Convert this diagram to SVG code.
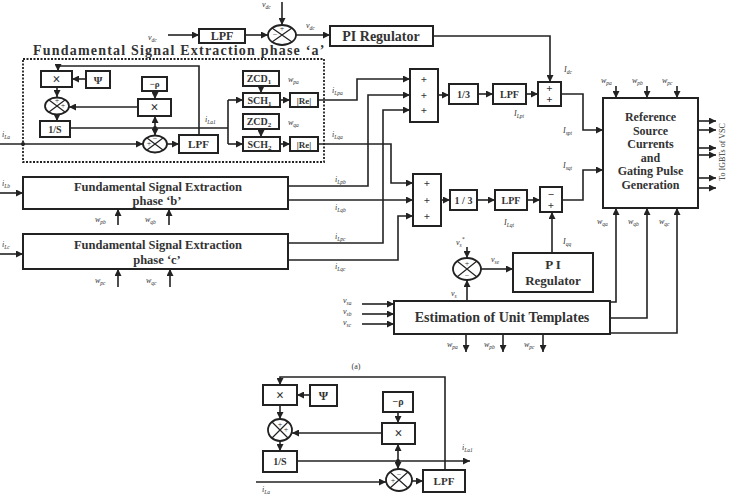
<svg xmlns="http://www.w3.org/2000/svg" width="731" height="495" viewBox="0 0 731 495">
<defs>
<marker id="a" viewBox="0 0 10 10" refX="10" refY="5" markerWidth="8" markerHeight="7" markerUnits="userSpaceOnUse" orient="auto"><path d="M0,0 L10,5 L0,10 z" fill="#222"/></marker>
<style>
.b{fill:#fff;stroke:#222;stroke-width:2}
.l{fill:none;stroke:#222;stroke-width:1.6}
.ar{fill:none;stroke:#222;stroke-width:1.6;marker-end:url(#a)}
.c{fill:#fff;stroke:#222;stroke-width:1.8}
.x{stroke:#222;stroke-width:1.2}
.t{font-family:"Liberation Serif",serif;font-weight:bold;fill:#333;text-anchor:middle}
.v{font-family:"Liberation Serif",serif;font-style:italic;font-size:8px;fill:#333}
.s{font-size:5.5px}
.g{font-family:"Liberation Serif",serif;font-size:8px;fill:#333;text-anchor:middle}
</style>
</defs>

<g id="connectors">
<path class="ar" d="M168,35 H199"/>
<path class="ar" d="M245,35 H268"/>
<path class="ar" d="M282,2 V25"/>
<path class="ar" d="M296,35 H330"/>
<path class="ar" d="M433,36 H550 V82"/>
<path class="ar" d="M199,135 V66 H58 V71"/>
<path class="ar" d="M86,79 H72"/>
<path class="ar" d="M57,87 V97"/>
<path class="ar" d="M57,114.5 V121"/>
<path class="ar" d="M155,91 V99"/>
<path class="ar" d="M138,107 H69"/>
<path class="l" d="M70,128 H228 M228,100 V144"/>
<path class="ar" d="M228,100 H243"/>
<path class="ar" d="M228,144 H243"/>
<path class="ar" d="M155,128 V116"/>
<path class="ar" d="M155,128 V135.5"/>
<circle cx="155" cy="128" r="2" fill="#222"/>
<path class="ar" d="M0,144 H143"/>
<circle cx="23" cy="144" r="2" fill="#222"/>
<path class="ar" d="M167,144 H179"/>
<path class="ar" d="M261,86 V93"/>
<path class="ar" d="M280,100 H290"/>
<path class="ar" d="M261,129 V137"/>
<path class="ar" d="M280,144 H290"/>
<path class="ar" d="M318,100 H357 V79 H410"/>
<path class="ar" d="M318,144 H391 V183 H413"/>
<path class="ar" d="M288,186 H368 V95 H410"/>
<path class="ar" d="M288,200 H413"/>
<path class="ar" d="M288,243 H383 V110 H410"/>
<path class="ar" d="M288,260 H398 V216 H413"/>
<path class="ar" d="M0,193 H23"/>
<path class="ar" d="M0,254 H23"/>
<path class="ar" d="M118,225 V209"/>
<path class="ar" d="M169,225 V209"/>
<path class="ar" d="M118,287 V269"/>
<path class="ar" d="M170,287 V269"/>
<path class="ar" d="M438,95 H449"/>
<path class="ar" d="M478,94 H493"/>
<path class="ar" d="M526,94 H538"/>
<path class="ar" d="M561,94 H583 V130 H603"/>
<path class="ar" d="M441,200 H450"/>
<path class="ar" d="M477,200 H495"/>
<path class="ar" d="M527,200 H540"/>
<path class="ar" d="M562,200 H583 V170 H603"/>
<path class="ar" d="M552,253 V212"/>
<path class="ar" d="M616,86 V98"/>
<path class="ar" d="M647,86 V98"/>
<path class="ar" d="M677,86 V98"/>
<path class="ar" d="M698,121 H716"/>
<path class="ar" d="M698,130 H716"/>
<path class="ar" d="M698,148 H716"/>
<path class="ar" d="M698,155 H716"/>
<path class="ar" d="M698,178 H716"/>
<path class="ar" d="M698,188 H716"/>
<path class="ar" d="M610,302 H616 V208"/>
<path class="ar" d="M610,318 H647 V208"/>
<path class="ar" d="M610,333 H677 V208"/>
<path class="ar" d="M362,304 H394"/>
<path class="ar" d="M362,314 H394"/>
<path class="ar" d="M362,324 H394"/>
<path class="ar" d="M467,301 V280"/>
<path class="ar" d="M467,247 V258"/>
<path class="ar" d="M481,269 H513"/>
<path class="ar" d="M466,334 V352"/>
<path class="ar" d="M503,334 V352"/>
<path class="ar" d="M543,334 V352"/>
<path class="ar" d="M445,470 V377 H280 V385"/>
<path class="ar" d="M310,395 H297"/>
<path class="ar" d="M280,405 V419"/>
<path class="ar" d="M280,441 V451"/>
<path class="ar" d="M398,412 V423"/>
<path class="ar" d="M382,433 H292"/>
<path class="ar" d="M297,461 H470"/>
<path class="ar" d="M398,461 V444"/>
<path class="ar" d="M398,461 V469"/>
<circle cx="398" cy="461" r="2" fill="#222"/>
<path class="ar" d="M412,481 H423"/>
<path class="ar" d="M256,482 H386"/>
</g>

<g id="labels">
<text class="v" x="148" y="40">v<tspan class="s" dy="2">dc</tspan></text>
<text class="v" x="262" y="7">v<tspan class="s" dy="2">dc</tspan></text>
<text class="v" x="306" y="28">v<tspan class="s" dy="2">dc</tspan></text>
<text class="v" x="2" y="137">i<tspan class="s" dy="2">La</tspan></text>
<text class="v" x="205" y="122">i<tspan class="s" dy="2">La1</tspan></text>
<text class="v" x="288" y="82">w<tspan class="s" dy="2">pa</tspan></text>
<text class="v" x="288" y="125">w<tspan class="s" dy="2">qa</tspan></text>
<text class="v" x="332" y="93">i<tspan class="s" dy="2">Lpa</tspan></text>
<text class="v" x="332" y="137">i<tspan class="s" dy="2">Lqa</tspan></text>
<text class="v" x="2" y="186">i<tspan class="s" dy="2">Lb</tspan></text>
<text class="v" x="2" y="247">i<tspan class="s" dy="2">Lc</tspan></text>
<text class="v" x="335" y="182">i<tspan class="s" dy="2">Lpb</tspan></text>
<text class="v" x="335" y="210">i<tspan class="s" dy="2">Lqb</tspan></text>
<text class="v" x="335" y="239">i<tspan class="s" dy="2">Lpc</tspan></text>
<text class="v" x="335" y="269">i<tspan class="s" dy="2">Lqc</tspan></text>
<text class="v" x="95" y="222">w<tspan class="s" dy="2">pb</tspan></text>
<text class="v" x="145" y="222">w<tspan class="s" dy="2">qb</tspan></text>
<text class="v" x="95" y="283">w<tspan class="s" dy="2">pc</tspan></text>
<text class="v" x="146" y="283">w<tspan class="s" dy="2">qc</tspan></text>
<text class="v" x="564" y="72">I<tspan class="s" dy="2">dc</tspan></text>
<text class="v" x="514" y="116">I<tspan class="s" dy="2">Lpt</tspan></text>
<text class="v" x="563" y="133">I<tspan class="s" dy="2">spt</tspan></text>
<text class="v" x="563" y="168">I<tspan class="s" dy="2">sqt</tspan></text>
<text class="v" x="504" y="225">I<tspan class="s" dy="2">Lqt</tspan></text>
<text class="v" x="563" y="244">I<tspan class="s" dy="2">qq</tspan></text>
<text class="v" x="601" y="83">w<tspan class="s" dy="2">pa</tspan></text>
<text class="v" x="632" y="83">w<tspan class="s" dy="2">pb</tspan></text>
<text class="v" x="662" y="83">w<tspan class="s" dy="2">pc</tspan></text>
<text class="v" x="597" y="224">w<tspan class="s" dy="2">qa</tspan></text>
<text class="v" x="628" y="224">w<tspan class="s" dy="2">qb</tspan></text>
<text class="v" x="659" y="224">w<tspan class="s" dy="2">qc</tspan></text>
<text class="v" x="343" y="303">v<tspan class="s" dy="2">sa</tspan></text>
<text class="v" x="343" y="314">v<tspan class="s" dy="2">sb</tspan></text>
<text class="v" x="343" y="325">v<tspan class="s" dy="2">sc</tspan></text>
<text class="v" x="451" y="296">v<tspan class="s" dy="2">s</tspan></text>
<text class="v" x="456" y="245">v<tspan class="s" dy="2">s</tspan><tspan class="s" dy="-6">*</tspan></text>
<text class="v" x="491" y="262">v<tspan class="s" dy="2">se</tspan></text>
<text class="v" x="447" y="347">w<tspan class="s" dy="2">pa</tspan></text>
<text class="v" x="484" y="347">w<tspan class="s" dy="2">pb</tspan></text>
<text class="v" x="524" y="347">w<tspan class="s" dy="2">pc</tspan></text>
<text class="g" x="356" y="369" font-size="9">(a)</text>
<text class="g" x="0" y="0" font-size="9" transform="translate(725,152) rotate(-90)">To IGBTs of VSC</text>
<text class="v" x="462" y="450">i<tspan class="s" dy="2">La1</tspan></text>
<text class="v" x="262" y="492">i<tspan class="s" dy="2">La</tspan></text>
</g>

<g id="lpf-dc"><rect class="b" x="199" y="29" width="46" height="14"/><text class="t" x="222" y="40" font-size="12">LPF</text></g>
<g id="sum-dc"><ellipse class="c" cx="282" cy="35" rx="14" ry="10"/><path class="x" d="M272,28 L292,42 M292,28 L272,42"/><text class="g" x="282" y="31" font-size="6">+</text><text class="g" x="275" y="37" font-size="6">−</text></g>
<g id="pi-dc"><rect class="b" x="330" y="26" width="103" height="20"/><text class="t" x="381" y="41" font-size="14">PI Regulator</text></g>

<g id="phase-a">
<text class="t" x="33" y="55" font-size="14" letter-spacing="1.2" style="text-anchor:start">Fundamental Signal Extraction phase ‘a’</text>
<rect x="23" y="59" width="301" height="103" fill="none" stroke="#222" stroke-width="1.8" stroke-dasharray="2,1.5"/>
<rect class="b" x="41" y="71" width="31" height="16"/><text class="t" x="56.5" y="84" font-size="14">×</text>
<rect class="b" x="86" y="71" width="24" height="17"/><text class="t" x="98" y="84" font-size="11">Ψ</text>
<ellipse class="c" cx="57" cy="106" rx="12" ry="8.5"/><path class="x" d="M49,100 L65,112 M65,100 L49,112"/><text class="g" x="57" y="103" font-size="6">+</text><text class="g" x="63" y="108" font-size="6">+</text>
<rect class="b" x="40" y="121" width="30" height="16"/><text class="t" x="55" y="133" font-size="10">1/S</text>
<rect class="b" x="142" y="77" width="25" height="14"/><text class="t" x="154.5" y="87" font-size="9">−ρ</text>
<rect class="b" x="138" y="99" width="33" height="17"/><text class="t" x="154.5" y="112" font-size="14">×</text>
<ellipse class="c" cx="155" cy="144" rx="12" ry="8.5"/><path class="x" d="M147,138 L163,150 M163,138 L147,150"/><text class="g" x="155" y="141" font-size="6">−</text><text class="g" x="149" y="146" font-size="6">+</text>
<rect class="b" x="179" y="135" width="39" height="18"/><text class="t" x="198.5" y="148" font-size="11">LPF</text>
<rect class="b" x="243" y="71" width="36" height="15"/><text class="t" x="259" y="82" font-size="10">ZCD<tspan font-size="7" dy="2">1</tspan></text>
<rect class="b" x="243" y="93" width="37" height="14"/><text class="t" x="259.5" y="104" font-size="10">SCH<tspan font-size="7" dy="2">1</tspan></text>
<rect class="b" x="290" y="93" width="28" height="14"/><text class="t" x="304" y="104" font-size="9">|Re|</text>
<rect class="b" x="243" y="114" width="36" height="15"/><text class="t" x="259" y="125" font-size="10">ZCD<tspan font-size="7" dy="2">2</tspan></text>
<rect class="b" x="243" y="137" width="37" height="14"/><text class="t" x="259.5" y="148" font-size="10">SCH<tspan font-size="7" dy="2">2</tspan></text>
<rect class="b" x="290" y="137" width="28" height="14"/><text class="t" x="304" y="148" font-size="9">|Re|</text>
</g>

<g id="phase-b"><rect class="b" x="23" y="177" width="265" height="32"/><text class="t" x="158" y="191" font-size="12.5">Fundamental Signal Extraction</text><text class="t" x="157" y="205" font-size="12.5">phase ‘b’</text></g>
<g id="phase-c"><rect class="b" x="23" y="234" width="265" height="35"/><text class="t" x="158" y="249" font-size="12.5">Fundamental Signal Extraction</text><text class="t" x="157" y="264" font-size="12.5">phase ‘c’</text></g>

<g id="sum-p"><rect class="b" x="410" y="69" width="28" height="53"/><text class="t" x="424" y="83" font-size="11">+</text><text class="t" x="424" y="99" font-size="11">+</text><text class="t" x="424" y="114" font-size="11">+</text></g>
<g id="sum-q"><rect class="b" x="413" y="174" width="28" height="52"/><text class="t" x="427" y="187" font-size="11">+</text><text class="t" x="427" y="204" font-size="11">+</text><text class="t" x="427" y="220" font-size="11">+</text></g>
<g id="third-p"><rect class="b" x="449" y="84" width="29" height="20"/><text class="t" x="463.5" y="98" font-size="10">1/3</text></g>
<g id="lpf-p"><rect class="b" x="493" y="84" width="33" height="20"/><text class="t" x="509.5" y="98" font-size="10">LPF</text></g>
<g id="sum-idc"><rect class="b" x="538" y="82" width="23" height="24"/><text class="t" x="549.5" y="92" font-size="11">+</text><text class="t" x="549.5" y="103" font-size="11">+</text></g>
<g id="third-q"><rect class="b" x="450" y="190" width="27" height="20"/><text class="t" x="463.5" y="204" font-size="10">1 / 3</text></g>
<g id="lpf-q"><rect class="b" x="495" y="190" width="32" height="20"/><text class="t" x="511" y="204" font-size="10">LPF</text></g>
<g id="sum-iq"><rect class="b" x="540" y="187" width="22" height="25"/><text class="t" x="551" y="198" font-size="11">−</text><text class="t" x="551" y="209" font-size="11">+</text></g>

<g id="rsc"><rect class="b" x="603" y="98" width="95" height="110"/>
<text class="t" x="650.5" y="121" font-size="12">Reference</text>
<text class="t" x="650.5" y="134.5" font-size="12">Source</text>
<text class="t" x="650.5" y="148" font-size="12">Currents</text>
<text class="t" x="650.5" y="161.5" font-size="12">and</text>
<text class="t" x="650.5" y="175" font-size="12">Gating Pulse</text>
<text class="t" x="650.5" y="188.5" font-size="12">Generation</text></g>

<g id="sum-vs"><ellipse class="c" cx="467" cy="269" rx="14" ry="11"/><path class="x" d="M457,261 L477,277 M477,261 L457,277"/><text class="g" x="467" y="266" font-size="7">+</text><text class="g" x="467" y="278" font-size="7">−</text></g>
<g id="pi-ac"><rect class="b" x="513" y="253" width="80" height="39"/><text class="t" x="553" y="269" font-size="13">P I</text><text class="t" x="553" y="285" font-size="13">Regulator</text></g>
<g id="estimation"><rect class="b" x="394" y="301" width="216" height="33"/><text class="t" x="502" y="322" font-size="14">Estimation of Unit Templates</text></g>

<g id="fig-b">
<rect class="b" x="263" y="385" width="34" height="20"/><text class="t" x="280" y="400" font-size="14">×</text>
<rect class="b" x="310" y="385" width="27" height="21"/><text class="t" x="323.5" y="400" font-size="12">Ψ</text>
<ellipse class="c" cx="280" cy="430" rx="12" ry="11"/><path class="x" d="M272,422 L288,438 M288,422 L272,438"/><text class="g" x="280" y="427" font-size="6">+</text><text class="g" x="286" y="432" font-size="6">+</text>
<rect class="b" x="263" y="451" width="34" height="21"/><text class="t" x="280" y="465" font-size="10">1/S</text>
<rect class="b" x="383" y="392" width="30" height="20"/><text class="t" x="398" y="405" font-size="10">−ρ</text>
<rect class="b" x="382" y="423" width="33" height="21"/><text class="t" x="398.5" y="438" font-size="14">×</text>
<ellipse class="c" cx="399" cy="480" rx="13" ry="11"/><path class="x" d="M390,472 L408,488 M408,472 L390,488"/><text class="g" x="399" y="477" font-size="6">−</text><text class="g" x="393" y="483" font-size="6">+</text>
<rect class="b" x="423" y="470" width="42" height="22"/><text class="t" x="444" y="485" font-size="11">LPF</text>
</g>
</svg>
